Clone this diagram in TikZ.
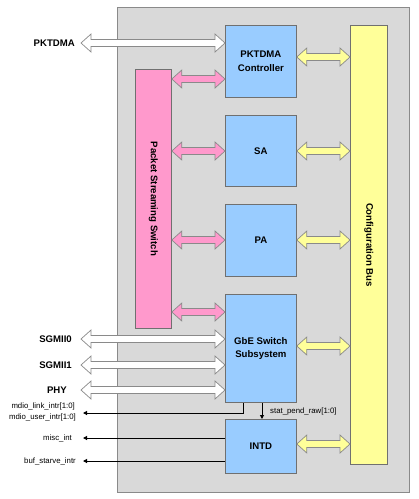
\documentclass[tikz,border=0pt]{standalone}
\usepackage{fontspec}
\setmainfont{Liberation Sans}
\usetikzlibrary{arrows.meta,calc}
\definecolor{bggray}{HTML}{D9D9D9}
\definecolor{blk}{HTML}{99CCFF}
\definecolor{pnk}{HTML}{FF99CC}
\definecolor{ylw}{HTML}{FFFF99}
\definecolor{edgegray}{HTML}{707070}
\definecolor{arrgray}{HTML}{8A8A8A}
\tikzset{
  blockbox/.style={draw=edgegray,line width=0.8pt,fill=blk,anchor=north west,inner sep=0pt,
    font=\fontsize{9.6}{13.5}\selectfont\bfseries,align=center},
  barbox/.style={draw=edgegray,line width=0.8pt,anchor=north west,inner sep=0pt},
  barlabel/.style={font=\fontsize{9.6}{12}\selectfont\bfseries,rotate=-90},
  extlabel/.style={font=\fontsize{9.6}{12}\selectfont\bfseries,anchor=east,inner sep=0pt},
  siglabel/.style={font=\fontsize{7.8}{10}\selectfont,anchor=east,inner sep=0pt},
  sigline/.style={draw=black,line width=1pt,-{Triangle[length=4pt,width=4pt]}},
  fatarrow/.style={draw=arrgray,line width=0.7pt,line join=miter},
}
\newcommand\dblarr[3]{%
  \path let \p1=(#2), \p2=(#3) in [fatarrow,fill=#1]
    (\x1,\y1) -- (\x1+10pt,\y1+9pt) -- (\x1+10pt,\y1+3.5pt) -- (\x2-10pt,\y1+3.5pt)
    -- (\x2-10pt,\y1+9pt) -- (\x2,\y1) -- (\x2-10pt,\y1-9pt) -- (\x2-10pt,\y1-3.5pt)
    -- (\x1+10pt,\y1-3.5pt) -- (\x1+10pt,\y1-9pt) -- cycle;}
\begin{document}
\begin{tikzpicture}[x=1pt,y=-1pt]
\useasboundingbox (0,0) rectangle (419,499);
% background
\node[barbox,fill=bggray,draw=arrgray,minimum width=292pt,minimum height=485pt] (bg) at (117,7) {};
% blocks
\node[blockbox,minimum width=71pt,minimum height=72pt] (pktc) at (225,25) {PKTDMA\\Controller};
\node[blockbox,minimum width=71pt,minimum height=71pt] (sa) at (225,115) {SA};
\node[blockbox,minimum width=71pt,minimum height=72pt] (pa) at (225,204) {PA};
\node[blockbox,minimum width=71pt,minimum height=108pt] (gbe) at (225,294) {GbE Switch\\Subsystem};
\node[blockbox,minimum width=71pt,minimum height=54pt] (intd) at (225,419) {INTD};
\node[barbox,fill=pnk,minimum width=36pt,minimum height=259pt] (pss) at (135,69) {};
\node[barlabel] (psst) at (pss.center) {Packet Streaming Switch};
\node[barbox,fill=ylw,minimum width=37pt,minimum height=439pt] (bus) at (350,25) {};
\node[barlabel] (bust) at (bus.center) {Configuration Bus};
% pink arrows
\dblarr{pnk}{pss.east |- 0,79}{pktc.west |- 0,79}
\dblarr{pnk}{pss.east |- 0,151}{sa.west |- 0,151}
\dblarr{pnk}{pss.east |- 0,240}{pa.west |- 0,240}
\dblarr{pnk}{pss.east |- 0,312}{gbe.west |- 0,312}
% yellow arrows
\dblarr{ylw}{pktc.east |- 0,57}{bus.west |- 0,57}
\dblarr{ylw}{sa.east |- 0,151}{bus.west |- 0,151}
\dblarr{ylw}{pa.east |- 0,240}{bus.west |- 0,240}
\dblarr{ylw}{gbe.east |- 0,346}{bus.west |- 0,346}
\dblarr{ylw}{intd.east |- 0,444}{bus.west |- 0,444}
% external arrows
\coordinate (extL) at (81,0);
\dblarr{white}{extL |- 0,43}{pktc.west |- 0,43}
\dblarr{white}{extL |- 0,339}{gbe.west |- 0,339}
\dblarr{white}{extL |- 0,365}{gbe.west |- 0,365}
\dblarr{white}{extL |- 0,390}{gbe.west |- 0,390}
\node[extlabel] (lpkt) at (75,43) {PKTDMA};
\node[extlabel] (lsg0) at (72,339) {SGMII0};
\node[extlabel] (lsg1) at (72,365) {SGMII1};
\node[extlabel] (lphy) at (67,390) {PHY};
% signals
\coordinate (sigL) at (83,0);
\draw[sigline] (gbe.south -| 243,0) |- (sigL |- 0,413);
\draw[sigline] (gbe.south -| 262,0) -- (intd.north -| 262,0);
\draw[sigline] (intd.west |- 0,438) -- (sigL |- 0,438);
\draw[sigline] (intd.west |- 0,461) -- (sigL |- 0,461);
\node[siglabel] (lmdl) at (75,406) {mdio\_link\_intr[1:0]};
\node[siglabel] (lmdu) at (76,417) {mdio\_user\_intr[1:0]};
\node[siglabel] (lmisc) at (72,438) {misc\_int};
\node[siglabel] (lbuf) at (76,461) {buf\_starve\_intr};
\node[siglabel,anchor=west] (lstat) at (270,411) {stat\_pend\_raw[1:0]};
\end{tikzpicture}
\end{document}
